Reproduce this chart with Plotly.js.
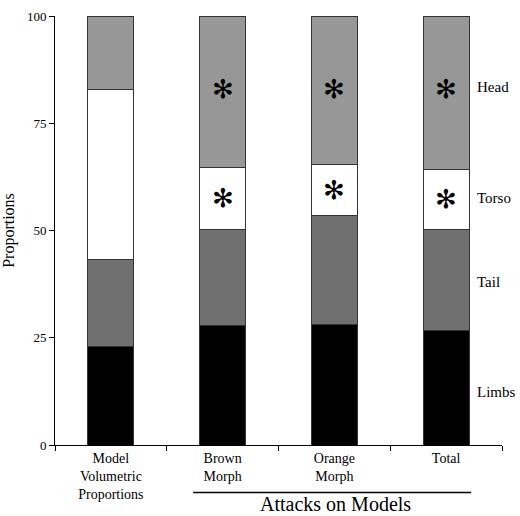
<!DOCTYPE html>
<html>
<head>
<meta charset="utf-8">
<script src="https://cdn.plot.ly/plotly-3.0.1.min.js"></script>
<style>html,body{margin:0;padding:0;background:#fff;}#chart{width:520px;height:516px;}</style>
</head>
<body>
<div id="chart"></div>
<script>
const categories = ["Model<br>Volumetric<br>Proportions", "Brown<br>Morph", "Orange<br>Morph", "Total"];
const limbs = [22.9, 27.8, 28.2, 26.7];
const tail  = [20.4, 22.4, 25.4, 23.5];
const torso = [39.6, 14.6, 11.8, 14.1];
const head  = [17.1, 35.2, 34.6, 35.7];
const partNames = ["Limbs", "Tail", "Torso", "Head"];
const partColors = ["#000000", "#707070", "#ffffff", "#979797"];
// significance markers: category index, y position
const starCats = [1, 2, 3, 1, 2, 3];
const starY = [83, 83, 83, 57.5, 59.5, 57.3];
const labelY = [12.4, 38.0, 57.5, 83.5];
const yTicks = [0, 25, 50, 75, 100];

const series = [limbs, tail, torso, head];
const traces = series.map((v, i) => ({
  type: "bar", x: categories, y: v, name: partNames[i],
  marker: {color: partColors[i], line: {color: "#333333", width: 1}},
  hoverinfo: "skip"
}));

const annotations = [];
starCats.forEach((c, i) => annotations.push({
  x: categories[c], y: starY[i], xref: "x", yref: "y", text: "✻", showarrow: false,
  font: {family: "DejaVu Sans", size: 26, color: "#000"}
}));
partNames.forEach((n, i) => annotations.push({
  x: 1.0, xref: "paper", xanchor: "left", xshift: -27, y: labelY[i], yref: "y",
  text: n, showarrow: false, font: {family: "Liberation Serif", size: 15, color: "#000"}
}));
annotations.push({
  x: 0.628, xref: "paper", y: -0.138, yref: "paper", yanchor: "middle", text: "Attacks on Models",
  showarrow: false, font: {family: "Liberation Serif", size: 20, color: "#000"}
});

const layout = {
  width: 520, height: 516,
  margin: {l: 55, r: 18, t: 16, b: 71},
  paper_bgcolor: "#fff", plot_bgcolor: "#fff",
  barmode: "stack", bargap: 0.59,
  showlegend: false,
  font: {family: "Liberation Serif", color: "#000"},
  xaxis: {
    type: "category", range: [-0.5, 3.5], showline: true, linecolor: "#000", linewidth: 1,
    ticks: "outside", tickson: "boundaries", ticklen: 5, tickcolor: "#000",
    tickfont: {family: "Liberation Serif", size: 14}, showgrid: false, zeroline: false
  },
  yaxis: {
    range: [0, 100], tickvals: yTicks, ticks: "outside", ticklen: 5, tickcolor: "#000",
    showline: true, linecolor: "#000", linewidth: 1, showgrid: false, zeroline: false,
    tickfont: {family: "Liberation Serif", size: 13},
    title: {text: "Proportions", font: {family: "Liberation Serif", size: 16}, standoff: 10}
  },
  shapes: [{type: "line", xref: "paper", yref: "paper", x0: 0.309, x1: 0.931, y0: -0.111, y1: -0.111,
    line: {color: "#000", width: 1.5}}],
  annotations: annotations
};
Plotly.newPlot("chart", traces, layout, {displayModeBar: false, staticPlot: true});
</script>
</body>
</html>
